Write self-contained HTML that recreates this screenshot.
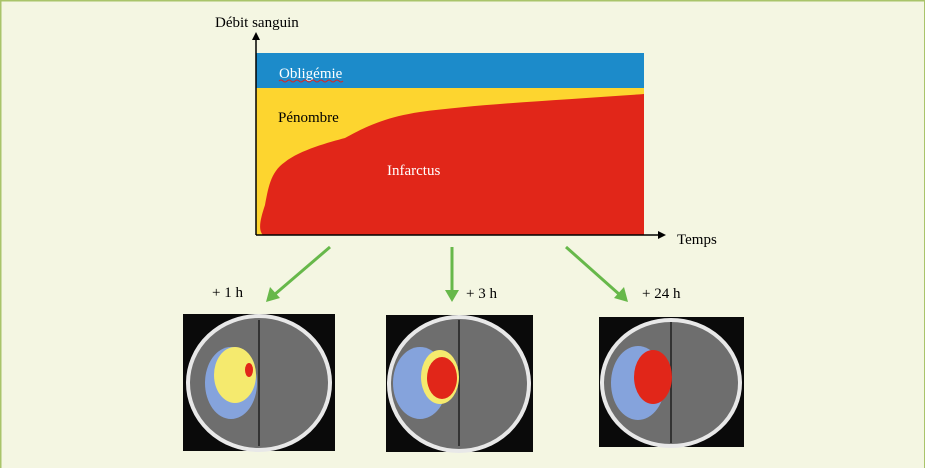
<!DOCTYPE html>
<html><head><meta charset="utf-8"><style>
html,body{margin:0;padding:0;background:#f4f6e2;}
svg{display:block;}
text{font-family:"Liberation Serif",serif;}
</style></head><body>
<svg width="925" height="468" viewBox="0 0 925 468">
<rect x="0" y="0" width="925" height="468" fill="#f4f6e2"/>
<line x1="0" y1="0.5" x2="925" y2="0.5" stroke="#a9c46a" stroke-width="2"/>
<line x1="0.5" y1="0" x2="0.5" y2="468" stroke="#a9c46a" stroke-width="2"/>
<line x1="924.5" y1="0" x2="924.5" y2="468" stroke="#a9c46a" stroke-width="1"/>
<!-- chart -->
<rect x="256" y="53" width="388" height="35" fill="#1c8bca"/>
<rect x="256" y="88" width="388" height="147" fill="#fdd52f"/>
<path d="M644,94 C560,100 480,104 420,112 C380,118 360,130 345,138 C330,142 300,150 285,162 C270,172 268,190 265,205 C260,220 258,230 263,235 L644,235 Z" fill="#e12619"/>
<line x1="256" y1="235" x2="660" y2="235" stroke="#000" stroke-width="1.5"/>
<polygon points="666,235 658,231 658,239" fill="#000"/>
<line x1="256" y1="235" x2="256" y2="38" stroke="#000" stroke-width="1.5"/>
<polygon points="256,32 252,40 260,40" fill="#000"/>
<text x="215" y="27" font-size="15">Débit sanguin</text>
<text x="279" y="78" font-size="15" fill="#fff">Obligémie</text>
<path d="M279,81 q2,-2 4,0 t4,0 t4,0 t4,0 t4,0 t4,0 t4,0 t4,0 t4,0 t4,0 t4,0 t4,0 t4,0 t4,0 t4,0 t4,0" stroke="#d22" fill="none" stroke-width="1"/>
<text x="278" y="122" font-size="15">Pénombre</text>
<text x="387" y="175" font-size="15" fill="#fff">Infarctus</text>
<text x="677" y="244" font-size="15">Temps</text>
<!-- arrows -->
<g stroke="#67b84a" stroke-width="3" fill="#67b84a">
<line x1="330" y1="247" x2="274" y2="295"/>
<line x1="452" y1="247" x2="452" y2="292"/>
<line x1="566" y1="247" x2="620" y2="295"/>
</g>
<polygon points="266,302 270,287 280,298" fill="#67b84a"/>
<polygon points="452,302 445,290 459,290" fill="#67b84a"/>
<polygon points="628,302 614,298 624,287" fill="#67b84a"/>
<text x="212" y="297" font-size="15">+ 1 h</text>
<text x="466" y="298" font-size="15">+ 3 h</text>
<text x="642" y="298" font-size="15">+ 24 h</text>
<!-- brains -->
<g>
<rect x="183" y="314" width="152" height="137" fill="#0a0a0a"/>
<ellipse cx="259" cy="383" rx="71" ry="67" fill="#6e6e6e" stroke="#e8e8e8" stroke-width="4"/>
<line x1="259" y1="320" x2="259" y2="446" stroke="#333" stroke-width="2"/>
<ellipse cx="231" cy="383" rx="26" ry="36" fill="#85a3dc"/>
<ellipse cx="235" cy="375" rx="21" ry="28" fill="#f5ea6e"/>
<ellipse cx="249" cy="370" rx="4" ry="7" fill="#e12619"/>
</g>
<g>
<rect x="386" y="315" width="147" height="137" fill="#0a0a0a"/>
<ellipse cx="459" cy="384" rx="70" ry="67" fill="#6e6e6e" stroke="#e8e8e8" stroke-width="4"/>
<line x1="459" y1="320" x2="459" y2="446" stroke="#333" stroke-width="2"/>
<ellipse cx="420" cy="383" rx="27" ry="36" fill="#85a3dc"/>
<ellipse cx="440" cy="377" rx="19" ry="27" fill="#f5ea6e"/>
<ellipse cx="442" cy="378" rx="15" ry="21" fill="#e12619"/>
</g>
<g>
<rect x="599" y="317" width="145" height="130" fill="#0a0a0a"/>
<ellipse cx="671" cy="383" rx="69" ry="63" fill="#6e6e6e" stroke="#e8e8e8" stroke-width="4"/>
<line x1="671" y1="322" x2="671" y2="443" stroke="#333" stroke-width="2"/>
<ellipse cx="638" cy="383" rx="27" ry="37" fill="#85a3dc"/>
<ellipse cx="653" cy="377" rx="19" ry="27" fill="#e12619"/>
</g>
</svg>
</body></html>
